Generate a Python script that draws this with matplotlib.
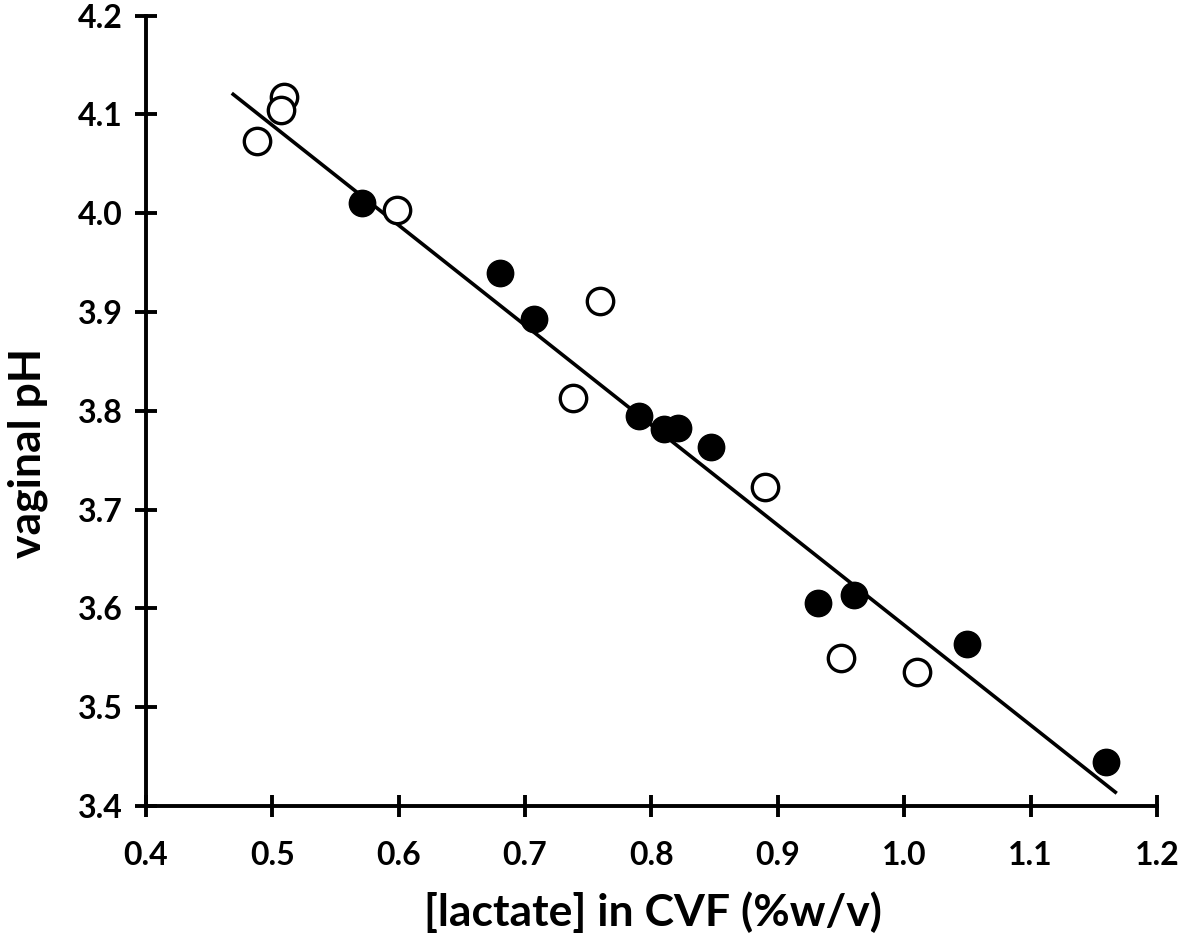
import matplotlib
matplotlib.use("Agg")
import matplotlib.pyplot as plt
import numpy as np

# open circles
open_x = [0.488, 0.509, 0.507, 0.599, 0.759, 0.738, 0.890, 0.950, 1.010]
open_y = [4.073, 4.118, 4.105, 4.003, 3.911, 3.813, 3.723, 3.550, 3.536]

# filled circles
fill_x = [0.571, 0.680, 0.707, 0.790, 0.810, 0.821, 0.847, 0.932, 0.960, 1.050, 1.160]
fill_y = [4.010, 3.940, 3.893, 3.795, 3.782, 3.783, 3.763, 3.605, 3.614, 3.564, 3.445]

# regression line as drawn in the figure
fit_slope = -1.012
fit_intercept = 4.595
line_x = [0.469, 1.167]

xticks = [0.4, 0.5, 0.6, 0.7, 0.8, 0.9, 1.0, 1.1, 1.2]
yticks = [3.4, 3.5, 3.6, 3.7, 3.8, 3.9, 4.0, 4.1, 4.2]

plt.rcParams['font.family'] = ['Lato', 'DejaVu Sans']
plt.rcParams['font.weight'] = 'bold'

fig = plt.figure(figsize=(11.81, 9.43), dpi=100)
ax = fig.add_axes([0.1236, 0.1453, 0.9797 - 0.1236, 0.9834 - 0.1453])

lx = np.array(line_x)
ax.plot(lx, fit_slope * lx + fit_intercept, color='black', lw=2.6, zorder=1)

ax.plot(open_x, open_y, 'o', ms=19, mfc='white', mec='black', mew=2.4, zorder=3)
ax.plot(fill_x, fill_y, 'o', ms=19, mfc='black', mec='black', mew=1, zorder=3)

ax.set_xlim(0.4, 1.2)
ax.set_ylim(3.4, 4.2)
ax.set_xticks(xticks, [f"{v:.1f}" for v in xticks])
ax.set_yticks(yticks, [f"{v:.1f}" for v in yticks])

for s in ['top', 'right']:
    ax.spines[s].set_visible(False)
for s in ['left', 'bottom']:
    ax.spines[s].set_linewidth(2.8)

ax.tick_params(axis='both', direction='inout', length=16, width=2.8, labelsize=23)
ax.tick_params(axis='x', pad=17)
ax.tick_params(axis='y', pad=9)

ax.set_xlabel('[lactate] in CVF (%w/v)', fontsize=32, fontweight='bold')
ax.set_ylabel('vaginal pH', fontsize=32, fontweight='bold')
ax.xaxis.set_label_coords(0.501, -0.108)
ax.yaxis.set_label_coords(-0.097, 0.447)

fig.savefig('out.png', dpi=100)
